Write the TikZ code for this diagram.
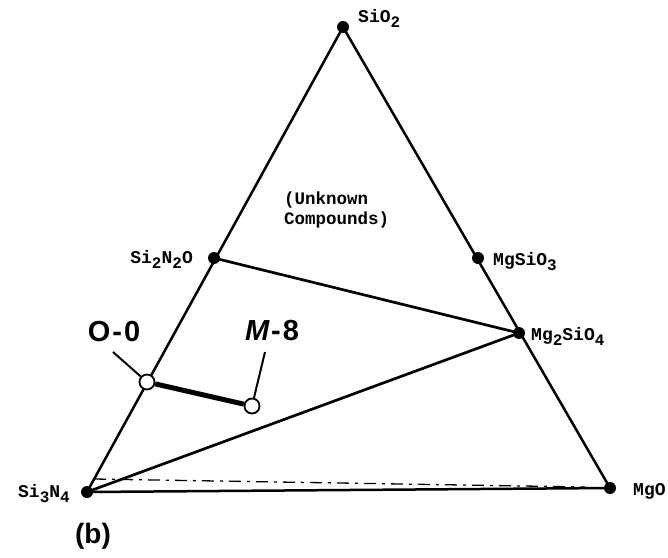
\documentclass[tikz,border=0pt]{standalone}
\usepackage{fontspec}
\newfontfamily\monofam{Liberation Mono}
\newfontfamily\sansfam{Liberation Sans}
\newcommand\subs[1]{\raisebox{-0.6ex}{\fontsize{16}{16}\selectfont #1}}
\begin{document}
\begin{tikzpicture}[x=1pt,y=-1pt,
  dot/.style={circle,fill=black,inner sep=0pt,minimum size=12pt},
  opendot/.style={circle,draw=black,fill=white,line width=1.8pt,inner sep=0pt,minimum size=15pt},
  edge/.style={line width=2.5pt},
  tie/.style={line width=2.7pt},
  thick tie/.style={line width=5pt},
  leader/.style={line width=2pt},
  lbl/.style={font=\monofam\bfseries\fontsize{18}{22}\selectfont,inner sep=0pt},
  biglbl/.style={font=\sansfam\bfseries\fontsize{29}{30}\selectfont,inner sep=0pt},
  dashline/.style={line width=1.3pt,dash pattern=on 12pt off 6pt on 3pt off 6pt}]
\useasboundingbox (0,0) rectangle (668,557);
% vertices and points
\node[dot] (sio2) at (343,27) {};
\node[dot] (si3n4) at (87,492) {};
\node[dot] (mgo) at (610,488) {};
\node[dot] (si2n2o) at (214,258) {};
\node[dot] (mgsio3) at (478,258) {};
\node[dot] (mg2sio4) at (519,333) {};
\coordinate (dA) at (94,479);
\coordinate (dB) at (585,487);
% edges
\draw[edge] (sio2.center) -- (si3n4.center);
\draw[edge] (sio2.center) -- (mgo.center);
\draw[edge] (si3n4.center) -- (mgo.center);
\draw[tie] (si2n2o.center) -- (mg2sio4.center);
\draw[tie] (si3n4.center) -- (mg2sio4.center);
\draw[dashline] (dA) -- (dB);
% sample points
\node[opendot] (o0) at (147,382) {};
\node[opendot] (m8) at (252,406) {};
\draw[thick tie] (o0) -- (m8);
% labels
\node[lbl,anchor=base west] (lsio2) at (358,22) {SiO\subs{2}};
\node[lbl,anchor=base east] (lsi2n2o) at (193,263) {Si\subs{2}N\subs{2}O};
\node[lbl,anchor=base west] (lmgsio3) at (493,265) {MgSiO\subs{3}};
\node[lbl,anchor=base west] (lmg2sio4) at (531,340) {Mg\subs{2}SiO\subs{4}};
\node[lbl,anchor=base west] (lmgo) at (633,495) {MgO};
\node[lbl,anchor=base east] (lsi3n4) at (70,497) {Si\subs{3}N\subs{4}};
\node[lbl,anchor=north west,align=left,font=\monofam\bfseries\fontsize{17.5}{20}\selectfont] (unk) at (284,192) {(Unknown\\Compounds)};
\node[biglbl] (lo0) at (114,332) {O\hspace{2pt}-\hspace{2pt}0};
\node[biglbl] (lm8) at (272,331) {\itshape M\hspace{2pt}\upshape-\hspace{2pt}8};
\node[font=\sansfam\bfseries\fontsize{28}{30}\selectfont,inner sep=0pt] (lb) at (93,536) {(b)};
% leaders
\coordinate (o0a) at (113,352);
\coordinate (m8a) at (265,352);
\draw[leader] (o0a) -- (o0);
\draw[leader] (m8a) -- (m8);
\end{tikzpicture}
\end{document}
